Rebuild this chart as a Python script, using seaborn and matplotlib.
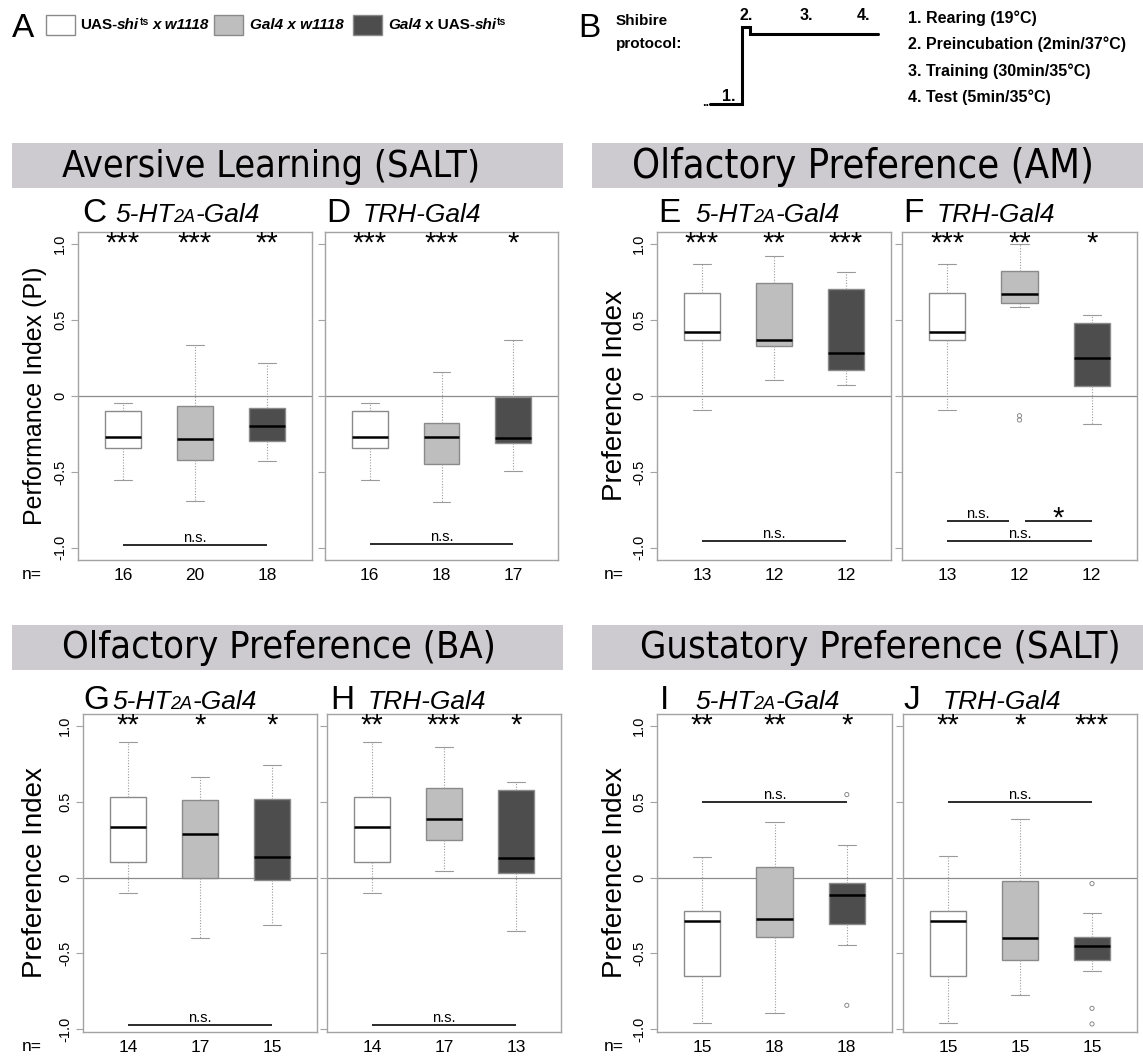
import numpy as np
import pandas as pd
import matplotlib
matplotlib.use('Agg')
import matplotlib.pyplot as plt
import seaborn as sns
from matplotlib.patches import Rectangle
from matplotlib.lines import Line2D
from matplotlib import font_manager

W, H = 1143, 1059

groups = ['UAS-shi x w1118', 'Gal4 x w1118', 'Gal4 x UAS-shi']
box_colors = ['#ffffff', '#bebebe', '#4d4d4d']

# five-number summaries: whisker low, Q1, median, Q3, whisker high
C_stats = [[-0.55, -0.345, -0.27, -0.10, -0.044],
           [-0.69, -0.42, -0.285, -0.065, 0.334],
           [-0.43, -0.295, -0.20, -0.08, 0.218]]
D_stats = [[-0.55, -0.345, -0.27, -0.10, -0.044],
           [-0.70, -0.45, -0.272, -0.175, 0.158],
           [-0.497, -0.31, -0.277, -0.007, 0.367]]
E_stats = [[-0.095, 0.367, 0.42, 0.677, 0.866],
           [0.103, 0.332, 0.371, 0.747, 0.919],
           [0.07, 0.171, 0.284, 0.705, 0.818]]
F_stats = [[-0.095, 0.367, 0.42, 0.677, 0.866],
           [0.585, 0.611, 0.673, 0.824, 1.0],
           [-0.185, 0.068, 0.248, 0.481, 0.534]]
G_stats = [[-0.104, 0.101, 0.333, 0.535, 0.892],
           [-0.401, 0.0, 0.286, 0.515, 0.667],
           [-0.315, -0.018, 0.137, 0.52, 0.742]]
H_stats = [[-0.104, 0.101, 0.333, 0.535, 0.892],
           [0.04, 0.251, 0.389, 0.593, 0.862],
           [-0.352, 0.031, 0.127, 0.58, 0.631]]
I_stats = [[-0.963, -0.647, -0.29, -0.22, 0.138],
           [-0.895, -0.393, -0.272, 0.07, 0.366],
           [-0.443, -0.305, -0.114, -0.033, 0.213]]
J_stats = [[-0.963, -0.65, -0.29, -0.22, 0.14],
           [-0.776, -0.543, -0.40, -0.024, 0.387],
           [-0.62, -0.543, -0.451, -0.393, -0.233]]

F_outliers = [[], [-0.13, -0.158], []]
I_outliers = [[], [], [0.548, -0.844]]
J_outliers = [[], [], [-0.04, -0.864, -0.967]]

C_n, D_n, E_n, F_n = [16, 20, 18], [16, 18, 17], [13, 12, 12], [13, 12, 12]
G_n, H_n, I_n, J_n = [14, 17, 15], [14, 17, 13], [15, 18, 18], [15, 15, 15]

C_stars, D_stars = ['***', '***', '**'], ['***', '***', '*']
E_stars, F_stars = ['***', '**', '***'], ['***', '**', '*']
G_stars, H_stars = ['**', '*', '*'], ['**', '***', '*']
I_stars, J_stars = ['**', '**', '*'], ['**', '*', '***']

# significance bars: (from group, to group, y, label)
C_sig = [(0, 2, -0.98, 'n.s.')]
D_sig = [(0, 2, -0.977, 'n.s.')]
E_sig = [(0, 2, -0.956, 'n.s.')]
F_sig = [(0, 0.85, -0.822, 'n.s.'), (1.08, 2, -0.822, '*'), (0, 2, -0.958, 'n.s.')]
G_sig = [(0, 2, -0.974, 'n.s.')]
H_sig = [(0, 2, -0.974, 'n.s.')]
I_sig = [(0, 2, 0.497, 'n.s.')]
J_sig = [(0, 2, 0.499, 'n.s.')]

section_titles = ['Aversive Learning (SALT)', 'Olfactory Preference (AM)',
                  'Olfactory Preference (BA)', 'Gustatory Preference (SALT)']
protocol_steps = ['1. Rearing (19°C)', '2. Preincubation (2min/37°C)',
                  '3. Training (30min/35°C)', '4. Test (5min/35°C)']

sns.set_style('ticks')
plt.rcParams['font.family'] = ['Liberation Sans', 'DejaVu Sans']
for key in ['text.color', 'axes.labelcolor', 'xtick.color', 'ytick.color']:
    plt.rcParams[key] = 'black'

# look for a narrow/condensed face for the section headers
narrow_file = None
for f in font_manager.fontManager.ttflist:
    low = f.fname.lower()
    if ('narrow' in low or 'condensed' in low) and 'bold' not in low and 'oblique' not in low \
            and 'italic' not in low:
        if narrow_file is None or 'liberation' in low:
            narrow_file = f.fname
head_font = font_manager.FontProperties(fname=narrow_file) if narrow_file else \
    font_manager.FontProperties(family='Liberation Sans')

fig = plt.figure(figsize=(W / 100, H / 100), dpi=100)
renderer = fig.canvas.get_renderer()


def fx(x):
    return x / W


def fy(y):
    return 1 - y / H


def rich(x, y, pieces):
    # pieces: (text, size, style, weight, gap_before, dy)
    for txt, size, style, weight, gap, dy in pieces:
        x += gap
        t = fig.text(fx(x), fy(y + dy), txt, fontsize=size, fontstyle=style,
                     fontweight=weight, ha='left', va='baseline')
        x += t.get_window_extent(renderer).width
    return x


def gene_pieces(gene):
    if gene == '5-HT':
        return [('5-HT', 19, 'italic', 'normal', 0, 0),
                ('2A', 13, 'italic', 'normal', 0, 0),
                ('-Gal4', 19, 'italic', 'normal', 0, 0)]
    return [('TRH-Gal4', 19, 'italic', 'normal', 0, 0)]


# ---- header: legend (A) and protocol (B)
fig.text(fx(12), fy(37), 'A', fontsize=24, va='baseline')
legend_boxes = [(46, 15), (214, 15), (353, 15)]
for (bx, by), col in zip(legend_boxes, box_colors):
    fig.add_artist(Rectangle((fx(bx), fy(by + 20)), 29 / W, 20 / H, transform=fig.transFigure,
                             facecolor=col, edgecolor='#8a8a8a', lw=1))
b, bi = 'bold', 'italic'
rich(80, 29, [('UAS-', 11, 'normal', b, 0, 0), ('shi', 11, bi, b, 0, 0),
              ('ts', 7.5, 'normal', b, 0, -4), ('x w1118', 11, bi, b, 4, 0)])
rich(250, 29, [('Gal4 x w1118', 11, bi, b, 0, 0)])
rich(388, 29, [('Gal4', 11, bi, b, 0, 0), ('x UAS-', 11, 'normal', b, 4, 0),
               ('shi', 11, bi, b, 0, 0), ('ts', 7.5, 'normal', b, 0, -4)])

fig.text(fx(578), fy(37), 'B', fontsize=24, va='baseline')
fig.text(fx(616), fy(25), 'Shibire', fontsize=11, fontweight='bold', va='baseline')
fig.text(fx(616), fy(48), 'protocol:', fontsize=11, fontweight='bold', va='baseline')
step_x = [710, 742, 742, 750, 750, 878]
step_y = [104, 104, 27, 27, 34, 34]
fig.add_artist(Line2D([fx(v) for v in step_x], [fy(v) for v in step_y], transform=fig.transFigure,
                      color='black', lw=2.2, solid_joinstyle='miter'))
fig.text(fx(702), fy(106), '..', fontsize=9, fontweight='bold', va='baseline')
for lab, (lx, ly) in zip(['1.', '2.', '3.', '4.'], [(722, 101), (740, 20), (800, 20), (857, 20)]):
    fig.text(fx(lx), fy(ly), lab, fontsize=11.5, fontweight='bold', va='baseline')
for k, step in enumerate(protocol_steps):
    fig.text(fx(908), fy(23 + 26.3 * k), step, fontsize=11.5, fontweight='bold', va='baseline')

# ---- grey section bars, text sized to the width seen in the figure
bars = [(12, 143, 563, 188, 62, 480), (592, 143, 1143, 188, 632, 1093),
        (12, 625, 563, 670, 62, 495), (592, 625, 1143, 670, 640, 1120)]
for (x0, y0, x1, y1, t0, t1), title in zip(bars, section_titles):
    fig.add_artist(Rectangle((fx(x0), fy(y1)), (x1 - x0) / W, (y1 - y0) / H, transform=fig.transFigure,
                             facecolor='#cdcbd0', edgecolor='none', zorder=0))
    t = fig.text(fx((t0 + t1) / 2), fy((y0 + y1) / 2 + 1), title, fontproperties=head_font,
                 ha='center', va='center')
    t.set_fontsize(30)
    width = t.get_window_extent(renderer).width
    t.set_fontsize(min(32, 30 * (t1 - t0) / width))

# ---- box plot panels
panels = [
    dict(letter='C', gene='5-HT', box=(78, 232, 312, 560), stats=C_stats, out=None, n=C_n, stars=C_stars,
         sig=C_sig, lx=82, gx=115, base=222, ylim=(-1.08, 1.08), ylabel='Performance Index (PI)', ysize=18,
         yx=35, nx=22),
    dict(letter='D', gene='TRH', box=(325, 232, 558, 560), stats=D_stats, out=None, n=D_n, stars=D_stars,
         sig=D_sig, lx=326, gx=363, base=222, ylim=(-1.08, 1.08)),
    dict(letter='E', gene='5-HT', box=(657, 232, 891, 560), stats=E_stats, out=None, n=E_n, stars=E_stars,
         sig=E_sig, lx=658, gx=695, base=222, ylim=(-1.08, 1.08), ylabel='Preference Index', ysize=20,
         yx=615, nx=604),
    dict(letter='F', gene='TRH', box=(902, 232, 1137, 560), stats=F_stats, out=F_outliers, n=F_n,
         stars=F_stars, sig=F_sig, lx=903, gx=937, base=222, ylim=(-1.08, 1.08)),
    dict(letter='G', gene='5-HT', box=(83, 714, 317, 1032), stats=G_stats, out=None, n=G_n, stars=G_stars,
         sig=G_sig, lx=83, gx=112, base=709, ylim=(-1.02, 1.08), ylabel='Preference Index', ysize=20,
         yx=35, nx=22),
    dict(letter='H', gene='TRH', box=(327, 714, 561, 1032), stats=H_stats, out=None, n=H_n, stars=H_stars,
         sig=H_sig, lx=330, gx=368, base=709, ylim=(-1.02, 1.08)),
    dict(letter='I', gene='5-HT', box=(657, 714, 892, 1032), stats=I_stats, out=I_outliers, n=I_n,
         stars=I_stars, sig=I_sig, lx=660, gx=695, base=709, ylim=(-1.02, 1.08), ylabel='Preference Index',
         ysize=20, yx=615, nx=604),
    dict(letter='J', gene='TRH', box=(903, 714, 1137, 1032), stats=J_stats, out=J_outliers, n=J_n,
         stars=J_stars, sig=J_sig, lx=903, gx=943, base=709, ylim=(-1.02, 1.08)),
]

frame_col = '#a3a3a3'
for p in panels:
    x0, y0, x1, y1 = p['box']
    ax = fig.add_axes([fx(x0), fy(y1), (x1 - x0) / W, (y1 - y0) / H])
    df = pd.DataFrame({'group': np.repeat(groups, 5), 'value': np.concatenate(p['stats'])})
    ax.axhline(0, color='#8c8c8c', lw=0.9, zorder=0.5)
    sns.boxplot(data=df, x='group', y='value', hue='group', order=groups, hue_order=groups,
                palette=box_colors, saturation=1, width=0.5, whis=(0, 100), showfliers=False,
                linecolor='#8a8a8a', linewidth=1.0, legend=False, ax=ax,
                medianprops=dict(color='black', linewidth=1.8),
                whiskerprops=dict(color='#9a9a9a', linestyle=(0, (1, 1.5)), linewidth=0.8),
                capprops=dict(color='#9a9a9a', linewidth=0.8))
    if p['out']:
        for i, vals in enumerate(p['out']):
            if vals:
                ax.scatter(np.full(len(vals), i), vals, s=9, facecolors='none',
                           edgecolors='#8a8a8a', linewidths=0.7, zorder=4)
    for i, s in enumerate(p['stars']):
        ax.text(i, 0.95, s, ha='center', va='baseline', fontsize=21)
    for a, bnd, yv, lab in p['sig']:
        ax.plot([a, bnd], [yv, yv], color='#1a1a1a', lw=1.3, solid_capstyle='butt')
        if lab == '*':
            ax.text((a + bnd) / 2, yv - 0.04, lab, ha='center', va='baseline', fontsize=21)
        else:
            ax.text((a + bnd) / 2, yv, lab, ha='center', va='bottom', fontsize=10.5)
    ax.set_xlim(-0.625, 2.625)
    ax.set_ylim(*p['ylim'])
    ax.set_xlabel('')
    ax.set_ylabel('')
    ax.set_xticks(range(3))
    ax.set_xticklabels([str(v) for v in p['n']], fontsize=12.5)
    ax.tick_params(axis='x', length=0, pad=6)
    ax.set_yticks([-1, -0.5, 0, 0.5, 1])
    ax.set_yticklabels(['-1.0', '-0.5', '0', '0.5', '1.0'], rotation=90, va='center', fontsize=10.5)
    ax.tick_params(axis='y', length=5, width=0.8, color=frame_col, pad=3)
    if 'ylabel' not in p:
        ax.tick_params(axis='y', labelleft=False)
    for sp in ax.spines.values():
        sp.set_color(frame_col)
        sp.set_linewidth(1.0)
    # panel title
    fig.text(fx(p['lx']), fy(p['base']), p['letter'], fontsize=24, ha='left', va='baseline')
    rich(p['gx'], p['base'], gene_pieces(p['gene']))
    if 'ylabel' in p:
        fig.text(fx(p['yx']), fy((y0 + y1) / 2), p['ylabel'], rotation=90, ha='center', va='center',
                 fontsize=p['ysize'])
        fig.text(fx(p['nx']), fy(y1 + 7), 'n=', fontsize=12.5, ha='left', va='top')

fig.savefig('out.png', dpi=100)
